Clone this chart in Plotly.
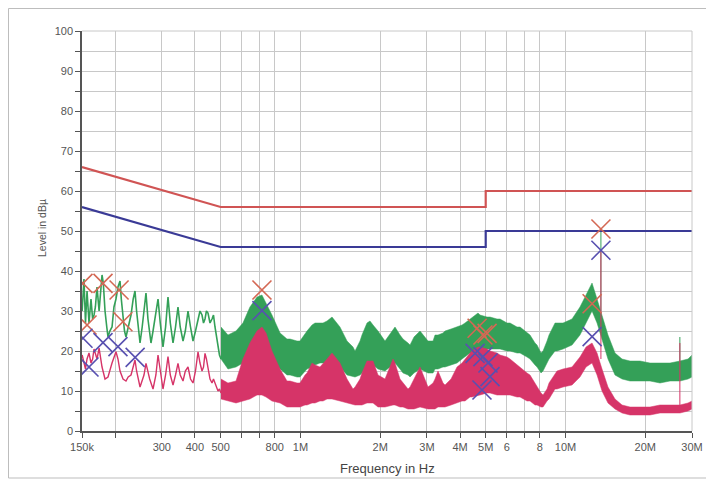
import plotly.graph_objects as go

# ---------------- data ----------------
# limit lines (frequency in Hz, level in dBuV)
limit_freq = [150e3, 500e3, 5e6, 5e6, 30e6]
qp_limit = [66, 56, 56, 60, 60]
av_limit = [56, 46, 46, 50, 50]

# low-frequency part of the peak trace (green), kHz
green_lf_khz = [150.2, 151.5, 152.6, 154.6, 156.7, 159.4, 162.2, 164.5, 166.5, 168.5, 170.9, 174.0,
                178.5, 180.5, 183.2, 186.0, 188.0, 191.0, 194.7, 198.0, 201.5, 205.0, 208.7, 211.0,
                214.2, 217.0, 219.8, 224.0, 229.6, 234.0, 237.7, 241.0, 248.3, 253.0, 257.0, 261.5,
                266.0, 273.1, 278.0, 282.8, 290.3, 296.0, 303.1, 310.0, 316.6, 323.0, 330.7, 338.0,
                345.3, 352.0, 360.7, 368.0, 376.7, 385.0, 393.4, 402.0, 410.9, 418.0, 425.4, 431.0,
                436.6, 442.0, 448.1, 456.0, 464.0, 470.0, 476.2, 482.0, 488.8, 495.0, 501.7]
green_lf_lvl = [30, 37, 38, 27, 35, 27, 33, 28, 29, 31, 36, 30,
                39, 37, 30, 26, 23.5, 25, 26, 31, 33, 36, 37.5, 33,
                29, 25, 23.5, 26, 29, 33, 35, 30, 22, 26, 30, 34.5,
                28, 22, 25, 28, 33, 27, 21, 26, 33.5, 27, 22, 26,
                31, 26, 22.5, 25, 30, 26, 22.5, 25, 28, 30, 29, 27,
                28, 30, 29.5, 27, 28, 29, 26, 24, 22, 19, 18]

# low-frequency part of the average trace (pink), kHz
pink_lf_khz = [150.2, 152.6, 154.6, 156.7, 159.4, 162.2, 164.5, 166.5, 170.9, 174.0, 178.5, 183.2,
               188.0, 194.7, 201.5, 205.0, 208.7, 214.2, 219.8, 224.0, 229.6, 237.7, 241.0, 248.3,
               257.0, 261.5, 270.0, 278.0, 285.0, 290.3, 296.0, 303.1, 310.0, 316.6, 323.0, 330.7,
               338.0, 345.3, 352.0, 360.7, 368.0, 376.7, 385.0, 393.4, 402.0, 410.9, 418.0, 425.4,
               431.0, 436.6, 442.0, 448.1, 456.0, 464.0, 470.0, 476.2, 482.0, 488.8, 495.0, 501.7]
pink_lf_lvl = [19, 17, 15.5, 18, 19.5, 17, 18, 20.5, 18, 20.7, 16, 13,
               13.5, 17, 19.8, 18, 15, 13, 12.5, 13.5, 14, 17.75, 15, 11,
               14, 16.9, 13, 10.5, 14, 19, 15, 10.5, 14, 18.6, 14, 11.5,
               14, 16.9, 14, 12.5, 15, 16, 13, 12, 15, 19.8, 17, 15,
               16, 19.4, 18, 16, 13, 12, 13, 12, 11, 10, 10.5, 9.5]

# high-frequency envelopes, MHz
band_mhz = [0.5017, 0.533, 0.5715, 0.607, 0.645, 0.686, 0.716, 0.742, 0.781, 0.838, 0.890, 0.914,
            0.971, 0.996, 1.041, 1.059, 1.106, 1.135, 1.185, 1.217, 1.260, 1.316, 1.410, 1.499,
            1.579, 1.607, 1.678, 1.707, 1.783, 1.830, 1.879, 1.962, 2.085, 2.235, 2.274, 2.375,
            2.438, 2.546, 2.591, 2.682, 2.826, 3.029, 3.164, 3.219, 3.304, 3.451, 3.511, 3.699,
            3.897, 4.070, 4.177, 4.363, 4.439, 4.677, 4.759, 5.057, 5.191, 5.516, 5.662, 6.017,
            6.176, 6.563, 6.736, 7.158, 7.347, 7.673, 7.808, 8.084, 8.226, 8.516, 8.666, 9.129,
            9.289, 9.786, 10.58, 11.34, 11.95, 12.59, 13.15, 13.73, 14.46, 15.37, 16.34, 17.51,
            19.10, 20.83, 22.72, 24.79, 27.03, 28.98, 30.0]
green_hi = [26, 24, 25, 27, 31, 33.5, 34, 32, 29, 24.5, 23, 23,
            22.5, 22.5, 24.5, 25, 26.5, 27, 27, 27, 27.5, 28.5, 26, 22.5,
            21, 20, 22.5, 24, 27, 27.5, 26.5, 25, 22.5, 25.5, 26, 24,
            23, 22, 21.5, 23.5, 25, 22.5, 22.5, 24, 24, 24.5, 25, 25.5,
            26, 26.5, 27, 28, 28.5, 29.5, 29, 28.5, 28.5, 28, 28, 27,
            27, 26, 26, 24.5, 24, 22, 21.5, 19.5, 20, 22.5, 24, 27,
            27, 27, 28, 31, 34, 37, 33, 29, 24, 19.5, 18, 17.5,
            17.5, 17, 17, 17, 17.5, 18, 19]
green_lo = [18, 15.5, 16, 17, 20, 23, 22, 20, 17.5, 15.5, 14, 14,
            13.5, 13.5, 15, 15.5, 16, 16.5, 17, 17, 17, 17.5, 16, 14,
            13.5, 13.5, 14, 14.5, 16.5, 17, 16.5, 15.5, 15, 16.5, 17, 15.5,
            14.5, 14, 13.5, 14.5, 15.5, 14.5, 14.5, 15.5, 15.5, 16, 16, 16.5,
            17, 18, 18.5, 19.5, 19.5, 20.5, 20.5, 20.5, 20.5, 20.5, 20.5, 20,
            20, 19.5, 19.5, 18.5, 18, 16.5, 16, 14.5, 15, 17, 18, 20,
            20, 20.5, 21.5, 24, 27, 30, 27, 23, 18, 14, 13, 12.5,
            12.5, 12.5, 12, 12.5, 12.5, 13, 13.5]
pink_hi = [13, 12, 12.5, 18, 22, 25, 26, 24.5, 20, 15.5, 12.5, 12.5,
           12, 12, 14, 14.5, 17, 16.5, 16, 17, 18, 19.5, 17, 13,
           10.5, 11, 13, 14.5, 17.5, 17.5, 17.5, 14, 13, 18, 17, 13,
           12, 10.5, 11, 13, 16, 11, 12, 13, 15, 12, 11.5, 13,
           16, 17, 18, 19.5, 20, 21, 21, 20.5, 20, 19.5, 19, 18.5,
           18, 16.5, 16, 14.5, 14, 12, 11, 9.5, 9, 10.5, 12, 14.5,
           15, 15.5, 16, 18.5, 21, 22, 19.5, 15.5, 11, 8, 6.5, 6,
           6, 6, 6.5, 6.5, 6.5, 7, 7.5]
pink_lo = [8, 7.5, 7, 7.5, 8, 9, 9, 8.5, 7.5, 7, 6, 6,
           6, 6, 6.5, 6.5, 7, 7, 7.5, 7.5, 8, 8, 7.5, 7,
           6.5, 6.5, 6.5, 6.5, 7, 7, 7, 6, 6, 6.5, 6.5, 6,
           6, 5.5, 5.5, 5.5, 6, 5.5, 5.5, 5.5, 6, 6, 6, 6.5,
           7, 7.5, 7.5, 8.5, 8.5, 9, 9, 9.5, 9.5, 9, 9, 9,
           9, 8.5, 8.5, 7.5, 7.5, 6.5, 6.5, 6, 6, 7.5, 8, 10.5,
           10.5, 11, 11.5, 13.5, 16, 17, 14, 10, 7, 5.5, 4.5, 4,
           4, 4, 4.5, 4.5, 4.5, 5, 5.5]

# narrow spikes (MHz, base level, top level)
spike_mhz = [13.6, 27.0]
green_spike_base = [30, 17.5]
green_spike_top = [50.5, 23.5]
pink_spike_base = [18, 6.5]
pink_spike_top = [45, 22]

# final measurement markers (Hz, dBuV)
qp_mark_f = [151.3e3, 156.7e3, 180e3, 207e3, 214e3, 716e3, 4.64e6, 4.88e6, 5.06e6, 12.6e6, 13.6e6]
qp_mark_l = [36.9, 26.5, 36.9, 35.25, 27.3, 35.25, 25.7, 24.0, 24.4, 31.8, 50.5]
av_mark_f = [151.3e3, 159.4e3, 180e3, 205e3, 238e3, 716e3, 4.56e6, 4.84e6, 4.88e6, 5.10e6, 5.19e6, 12.6e6, 13.6e6]
av_mark_l = [23.2, 16.0, 22.1, 21.1, 18.4, 30.1, 19.4, 10.25, 18.6, 17.0, 13.6, 23.6, 45.2]

# axis ticks
x_tickvals = [150e3, 200e3, 300e3, 400e3, 500e3, 600e3, 700e3, 800e3, 1e6, 2e6, 3e6, 4e6, 5e6,
              6e6, 7e6, 8e6, 10e6, 20e6, 30e6]
x_ticktext = ["150k", "", "300", "400", "500", "", "", "800", "1M", "2M", "3M", "4M", "5M",
              "6", "", "8", "10M", "20M", "30M"]
y_tickvals = list(range(0, 101, 5))
y_ticktext = [str(v) if v % 10 == 0 else "" for v in y_tickvals]

# ---------------- styling ----------------
GREEN = "rgb(52,160,88)"
PINK = "rgb(214,52,104)"
RED_LIM = "rgb(208,84,84)"
BLUE_LIM = "rgb(58,58,150)"
QP_COL = "rgb(212,104,84)"
AV_COL = "rgb(88,80,176)"

band_hz = [f * 1e6 for f in band_mhz]
fig = go.Figure()

# green (peak) trace
fig.add_trace(go.Scatter(x=band_hz, y=green_lo, mode="lines", line=dict(color=GREEN, width=0.5),
                         showlegend=False, hoverinfo="skip"))
fig.add_trace(go.Scatter(x=band_hz, y=green_hi, mode="lines", line=dict(color=GREEN, width=0.5),
                         fill="tonexty", fillcolor=GREEN, showlegend=False))
fig.add_trace(go.Scatter(x=[f * 1e3 for f in green_lf_khz], y=green_lf_lvl, mode="lines",
                         line=dict(color=GREEN, width=1.6), showlegend=False))
gsx, gsy = [], []
for f, b, t in zip(spike_mhz, green_spike_base, green_spike_top):
    gsx += [f * 1e6, f * 1e6, None]
    gsy += [b, t, None]
fig.add_trace(go.Scatter(x=gsx, y=gsy, mode="lines", line=dict(color=GREEN, width=1),
                         showlegend=False))

# pink (average) trace
fig.add_trace(go.Scatter(x=band_hz, y=pink_lo, mode="lines", line=dict(color=PINK, width=0.5),
                         showlegend=False, hoverinfo="skip"))
fig.add_trace(go.Scatter(x=band_hz, y=pink_hi, mode="lines", line=dict(color=PINK, width=0.5),
                         fill="tonexty", fillcolor=PINK, showlegend=False))
fig.add_trace(go.Scatter(x=[f * 1e3 for f in pink_lf_khz], y=pink_lf_lvl, mode="lines",
                         line=dict(color=PINK, width=1.4), showlegend=False))
psx, psy = [], []
for f, b, t in zip(spike_mhz, pink_spike_base, pink_spike_top):
    psx += [f * 1e6, f * 1e6, None]
    psy += [b, t, None]
fig.add_trace(go.Scatter(x=psx, y=psy, mode="lines", line=dict(color=PINK, width=1),
                         showlegend=False))

# limits
fig.add_trace(go.Scatter(x=limit_freq, y=qp_limit, mode="lines", line=dict(color=RED_LIM, width=2.2),
                         showlegend=False))
fig.add_trace(go.Scatter(x=limit_freq, y=av_limit, mode="lines", line=dict(color=BLUE_LIM, width=2.2),
                         showlegend=False))

# markers
fig.add_trace(go.Scatter(x=qp_mark_f, y=qp_mark_l, mode="markers",
                         marker=dict(symbol="x-thin", size=19, line=dict(color=QP_COL, width=1.6)),
                         showlegend=False))
fig.add_trace(go.Scatter(x=av_mark_f, y=av_mark_l, mode="markers",
                         marker=dict(symbol="x-thin", size=19, line=dict(color=AV_COL, width=1.6)),
                         showlegend=False))

# page body has an 8px margin: figure placed at (8, 8)
OFF = 8
W, H = 706, 476
L, R, T, B = 74, 22, 23, 53
pw, ph = W - L - R, H - T - B

def px(xabs):
    return (xabs - OFF - L) / pw

def py(yabs):
    return (H - B - (yabs - OFF)) / ph

fig.update_layout(
    width=W, height=H,
    margin=dict(l=L, r=R, t=T, b=B, autoexpand=False),
    paper_bgcolor="white", plot_bgcolor="white",
    font=dict(family="Liberation Sans, Arial, sans-serif", size=11, color="#555"),
    xaxis=dict(type="log", range=[5.176091, 7.477121], tickvals=x_tickvals, ticktext=x_ticktext,
               showgrid=True, gridcolor="#c8c8c8", gridwidth=1, zeroline=False,
               showline=True, linecolor="#555", linewidth=1.5,
               ticks="outside", ticklen=5, tickcolor="#555", tickwidth=1.2,
               tickfont=dict(size=11, color="#555")),
    yaxis=dict(range=[0, 100], tickvals=y_tickvals, ticktext=y_ticktext,
               showgrid=True, gridcolor="#c8c8c8", gridwidth=1, zeroline=False,
               showline=True, linecolor="#555", linewidth=1.5,
               ticks="outside", ticklen=5, tickcolor="#555", tickwidth=1.2,
               tickfont=dict(size=11, color="#555")),
    shapes=[
        dict(type="rect", xref="paper", yref="paper", x0=px(8.5), x1=px(711), y0=py(478), y1=py(8.5),
             line=dict(color="#bdbdbd", width=1), fillcolor="rgba(0,0,0,0)", layer="below"),
        dict(type="line", xref="paper", yref="paper", x0=1, x1=1, y0=0, y1=1,
             line=dict(color="#c8c8c8", width=1)),
        dict(type="line", xref="paper", yref="paper", x0=0, x1=1, y0=1, y1=1,
             line=dict(color="#c8c8c8", width=1)),
    ],
    annotations=[
        dict(text="Frequency in Hz", xref="paper", yref="paper", x=px(387), y=py(468),
             showarrow=False, font=dict(size=13, color="#444"), xanchor="center", yanchor="middle"),
        dict(text="Level in dBµ", xref="paper", yref="paper", x=px(42), y=py(228),
             showarrow=False, textangle=-90, font=dict(size=10.5, color="#555"),
             xanchor="center", yanchor="middle"),
    ],
)

fig.write_html("out.html")
